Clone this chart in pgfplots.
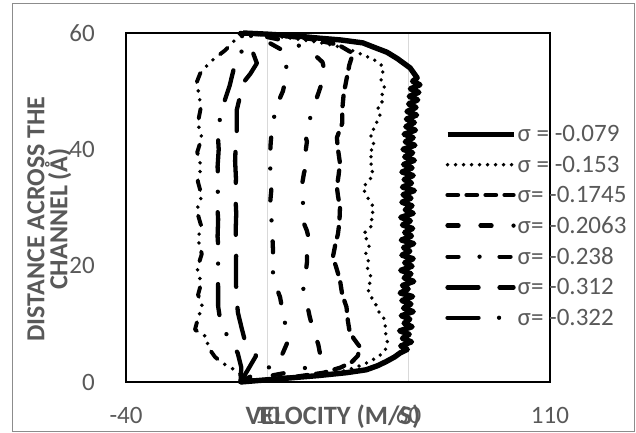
\documentclass[border=0pt]{standalone}
\usepackage{fontspec}
\setmainfont{Carlito}
\usepackage{pgfplots}
\pgfplotsset{compat=1.18}
\definecolor{txt}{HTML}{595959}
\definecolor{grd}{HTML}{D9D9D9}
\definecolor{brd}{HTML}{8C8C8C}
\newcommand{\fs}{\fontsize{25bp}{30bp}\selectfont}
\newcommand{\fl}{\fontsize{26.5bp}{30bp}\selectfont}
\newcommand{\fy}{\fontsize{26bp}{23bp}\selectfont\lineskiplimit=-100pt\relax}
\begin{document}
\begin{tikzpicture}
\useasboundingbox (-126bp,-51bp) rectangle (510bp,382bp);
\draw[brd, line width=0.8bp] (-114bp,-49.7bp) rectangle (508.5bp,379bp);
\begin{axis}[
  at={(0,0)}, anchor=south west,
  scale only axis, width=424bp, height=349bp,
  xmin=-40, xmax=110, ymin=0, ymax=60,
  clip=false,
  xtick={-40,10,60,110}, xticklabels={{-40},{10},{60},{110}},
  ytick={0,20,40,60}, yticklabels={{0},{20},{40},{60}},
  xmajorgrids, grid style={grd, line width=1.2bp},
  major tick length=0pt,
  axis line style={black, line width=1.5bp},
  tick label style={font=\fs, text=txt, inner sep=0pt},
  xticklabel style={anchor=base, yshift=-41.5bp},
  yticklabel style={anchor=east, xshift=-31bp},
  xlabel={\textbf{VELOCITY (M/S)}},
  ylabel={\textbf{DISTANCE ACROSS THE}\\\textbf{CHANNEL (Å)}},
  every axis x label/.style={at={(axis description cs:0.488,0)}, anchor=base, yshift=-42bp, inner sep=0pt, font=\fl, text=txt},
  every axis y label/.style={at={(axis description cs:-0.181,0.467)}, rotate=90, anchor=center, align=center, inner sep=0pt, font=\fy, text=txt},
  legend style={draw=none, fill=none, at={(axis description cs:0.752,0.735)}, anchor=north west, inner sep=0pt, outer sep=0pt, row sep=12.6bp, column sep=1.5bp, font=\fs, text=txt, nodes={inner sep=0pt}},
  legend cell align=left,
  legend image code/.code={\draw[#1] (2bp,0bp) -- (68bp,0bp);},
  every axis plot/.append style={black, mark=none, line join=round},
]
% sigma = -0.079
\addplot[line width=5.4bp] coordinates {
(0.5,0) (8,0.3) (18,0.7) (28,1.1) (38,1.6) (45,2.1) (49,2.8) (52,3.5) (55,4.3) (57,5.0)
(59.5,5.6) (57.2,6.2) (61.0,6.9) (57.8,7.5) (60.2,8.2) (56.8,8.8) (61.2,9.5) (58.4,10.1) (60.4,10.8) (57.4,11.4)
(61.6,12.1) (58.2,12.7) (60.8,13.4) (57.6,14.0) (61.4,14.7) (57.0,15.3) (59.8,16.0) (57.8,16.6) (61.8,17.3) (58.4,17.9)
(60.8,18.6) (57.2,19.2) (61.2,19.9) (58.6,20.5) (61.6,21.2) (57.6,21.8) (60.4,22.5) (58.2,23.1) (61.8,23.8) (57.4,24.4)
(61.0,25.1) (58.6,25.7) (61.4,26.4) (57.8,27.0) (60.6,27.7) (57.2,28.3) (61.6,29.0) (58.8,29.6) (61.2,30.3) (57.6,30.9)
(60.8,31.6) (58.0,32.2) (62.0,32.9) (57.8,33.5) (61.0,34.2) (58.4,34.8) (61.6,35.5) (57.6,36.1) (61.2,36.8) (58.2,37.4)
(62.0,38.1) (58.6,38.7) (61.4,39.4) (58.0,40.0) (62.2,40.7) (58.8,41.3) (61.6,42.0) (58.4,42.6) (62.4,43.3) (59.0,43.9)
(62.0,44.6) (59.2,45.2) (62.8,45.9) (59.4,46.5) (62.6,47.2) (60.0,47.8) (63.2,48.5) (60.2,49.1) (63.6,49.8) (60.6,50.4)
(64.0,51.1) (61.4,51.7) (63,52.3) (60.5,54) (56,55.6) (52.3,56.7) (48,57.5) (43.8,58.3) (36,58.8) (28.6,59.1)
(20,59.5) (10,59.8) (1.4,60)
};
% sigma = -0.153
\addplot[line width=3.8bp, line cap=round, dash pattern=on 0bp off 8bp] coordinates {
(0.5,0) (10,0.4) (20,0.8) (30,1.3) (38,2.0) (44,3.0) (48,4.0) (51,5.0) (52,5.8) (52.5,6.7)
(52.3,7.7) (51.5,8.8) (51.8,10.0) (51,11.2) (49,12.3) (48.5,13.2) (47.4,14.1) (46,15.2) (45.5,16.3) (46.8,17.5)
(46.3,18.7) (45.2,19.8) (45.8,21.0) (44.8,22.2) (46,23.3) (45.3,24.4) (44,25.5) (46.2,26.4) (47.4,27.3) (46.5,28.5)
(47.8,29.6) (46.8,30.8) (45,32.0) (43.8,33.5) (46,34.6) (47.5,35.8) (46.4,37.0) (47.2,38.2) (46,39.4) (48,40.5)
(47,41.6) (46.4,42.8) (48.5,44.0) (48.8,45.0) (50.2,46.2) (49,47.3) (51,48.4) (50.6,49.5) (51.5,50.6) (50.2,51.8)
(50.8,53.0) (51,54.2) (48.5,55.2) (45,56.0) (40,57.0) (34,57.8) (28,58.4) (20,59.0) (12,59.5) (5,59.8) (0.8,60)
};
% sigma = -0.1745
\addplot[line width=4.3bp, line cap=round, dash pattern=on 10.5bp off 8.5bp] coordinates {
(0.5,0) (10,0.4) (20,0.9) (30,1.6) (36,2.5) (40,3.5) (42,4.5) (42.8,6) (40.5,7.5) (39,9)
(38.5,10.5) (38,12.9) (36.5,15) (35.7,17.5) (34.5,19.5) (33.2,21.5) (34,23.5) (35,25.5) (35.5,27.5) (35.7,30)
(35,32) (34.6,33.5) (35.2,35.5) (35.7,37.6) (35,40) (34.6,42) (36.5,44.5) (36.5,46.8) (37,49.5) (38,52)
(39,54.5) (40.3,56.5) (35,58) (25,59) (15,59.5) (5,59.9) (0.5,60)
};
% sigma = -0.2063
\addplot[line width=4.3bp, line cap=round, dash pattern=on 11bp off 22bp on 11bp off 22bp on 0bp off 22bp] coordinates {
(0.5,0) (8,0.8) (18,1.7) (24,2.5) (26.5,3.5) (28.6,5) (28,6.5) (26.5,8.5) (25,11.2) (24,13.5)
(22.6,16.3) (23.5,18.5) (24,20.5) (24,22.5) (25,24) (24,26) (22.5,27.8) (22.8,29.5) (22.6,30.8) (23.5,32.5)
(22.3,34) (23,36) (24,37.5) (23.5,39.5) (24,41.3) (23.2,43) (25.5,45.8) (27,47.5) (27.6,49) (29,51)
(30.5,53) (29.5,55) (25,57) (18,58.5) (10,59.3) (0.5,60)
};
% sigma = -0.238
\addplot[line width=4.3bp, line cap=round, dash pattern=on 11bp off 21bp on 0bp off 20bp] coordinates {
(0.5,0) (5,1.2) (10.2,2.4) (14,3.6) (15.5,5) (17,6.7) (17,8.4) (15.5,11.9) (14.5,14.6) (13,16.5)
(12,18.7) (12,20.7) (12,22.7) (11.8,25) (11.6,27.3) (11.2,29) (11,30.8) (11.4,33) (11.2,35) (11,37.2)
(11,39.4) (11.2,41.2) (11.6,43.3) (12.7,46.4) (14,48.3) (15.5,50) (16.5,52) (17,53.6) (16,55.5) (15.5,57)
(10,58.5) (5,59.4) (0.5,60)
};
% sigma = -0.312
\addplot[line width=4.3bp, line cap=round, dash pattern=on 31bp off 21bp] coordinates {
(0.5,0) (3,2) (6,4.5) (4,6) (2,7.2) (0.8,9.5) (-0.4,11.9) (-0.8,14) (-1.1,17) (-1.1,20)
(-1.0,23) (-1.2,26) (-1.0,29) (-1.3,32) (-1.1,35) (-1.4,38) (-1.2,40.5) (-0.8,43.3) (-0.8,46.8) (0.3,49)
(1.4,51.4) (4,53) (6.3,54.8) (5,56.5) (2.5,58) (0.5,60)
};
% sigma = -0.322
\addplot[line width=4.3bp, line cap=round, dash pattern=on 31bp off 20.5bp on 0bp off 20.5bp] coordinates {
(0.5,0) (0.8,2.5) (-0.5,5) (-4,7.7) (-6.7,10.7) (-7.4,13) (-7.4,16.3) (-7.6,19) (-7.2,22) (-7.6,25)
(-7.4,28) (-7.8,31) (-7.3,34) (-7.6,37) (-7.2,40) (-7.5,42.5) (-6.7,45.5) (-5,48.5) (-3.3,51) (-2,53.6)
(0,55.5) (1,57) (0.8,58.5) (0.5,60)
};
% extra profile (not in legend)
\addplot[forget plot, line width=3.9bp, line cap=round, dash pattern=on 10bp off 9bp on 0bp off 9bp on 0bp off 9bp] coordinates {
(0.5,0) (1.4,0.9) (-2,2.2) (-6,3.3) (-8.5,4.3) (-11,6) (-11.4,7.7) (-15.6,9) (-14.5,11) (-13,13)
(-14.5,15) (-13.4,17) (-14.8,19.5) (-13.2,22) (-14.5,24.5) (-13.5,27) (-15,29.5) (-13.2,32) (-14.6,34.5) (-13.4,37)
(-14.8,39.5) (-13.2,42) (-14.6,44.5) (-13.6,47) (-14,49) (-15,51.5) (-13.8,53) (-10.3,55) (-5,57) (-2,58.5) (0.5,60)
};
\legend{σ = -0.079, σ = -0.153, σ= -0.1745, σ= -0.2063, σ= -0.238, σ= -0.312, σ= -0.322}
\end{axis}
\end{tikzpicture}
\end{document}
